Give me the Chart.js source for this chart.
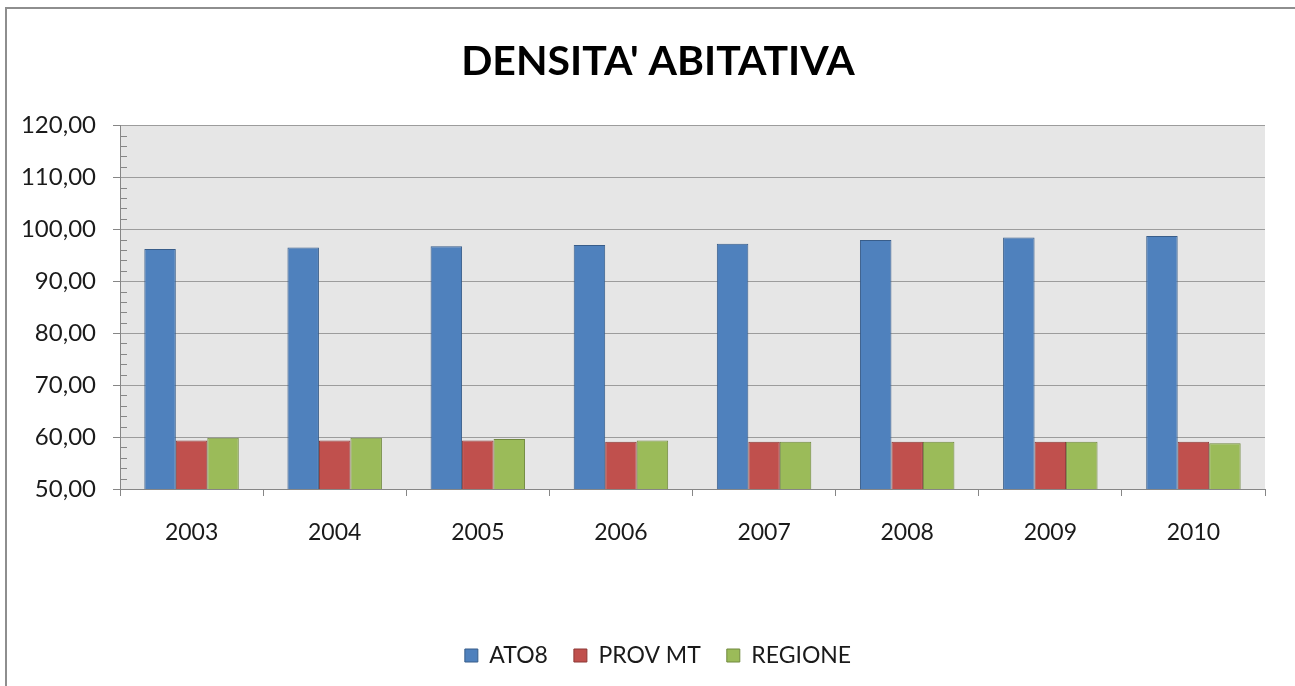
<!DOCTYPE html>
<html lang="it">
<head>
<meta charset="utf-8">
<title>Densita' abitativa</title>
<script src="https://cdn.jsdelivr.net/npm/chart.js@4/dist/chart.umd.min.js"></script>
<style>
  html, body { margin: 0; padding: 0; background: #fff; overflow: hidden; }
  #frame {
    position: absolute; left: 5px; top: 7px;
    width: 1400px; height: 800px;
    border: 2px solid #8e8e8e;
  }
  /* the original chart object is a bit wider than the visible crop */
  #wrap { position: absolute; left: 0; top: 0; width: 1308px; height: 686px; }
</style>
</head>
<body>
<div id="frame"></div>
<div id="wrap"><canvas id="densChart"></canvas></div>
<script>
// Values (abitanti per km²).
const YEARS = ['2003', '2004', '2005', '2006', '2007', '2008', '2009', '2010'];
const ATO8 = [96.2, 96.45, 96.7, 96.95, 97.2, 97.9, 98.4, 98.7];
const PROV_MT = [59.35, 59.35, 59.35, 59.1, 59.1, 59.1, 59.1, 59.1];
const REGIONE = [59.85, 59.85, 59.6, 59.35, 59.1, 59.1, 59.1, 58.8];

const Y_MIN = 50;
const Y_MAX = 120;
const Y_STEP = 10;
const Y_MINOR_STEP = 2;

const FONT = "Lato, 'Open Sans', sans-serif";
const GRID_COLOR = '#9c9c9c';
const AXIS_COLOR = '#868686';
const TEXT_COLOR = '#1a1a1a';

// Excel-style grey plot area behind the bars.
const plotBackground = {
  id: 'plotBackground',
  beforeDraw(chart) {
    const { ctx, chartArea: a } = chart;
    ctx.save();
    ctx.fillStyle = '#e6e6e6';
    ctx.fillRect(a.left, a.top, a.right - a.left, a.bottom - a.top);
    ctx.restore();
  },
};

// Small minor tick marks on the inside of the value axis.
const minorTicks = {
  id: 'minorTicks',
  afterDatasetsDraw(chart) {
    const { ctx, chartArea: a } = chart;
    const y = chart.scales.y;
    ctx.save();
    ctx.strokeStyle = AXIS_COLOR;
    ctx.lineWidth = 1;
    for (let v = Y_MIN + Y_MINOR_STEP; v < Y_MAX; v += Y_MINOR_STEP) {
      if (v % Y_STEP === 0) continue;
      const py = Math.round(y.getPixelForValue(v)) + 0.5;
      ctx.beginPath();
      ctx.moveTo(a.left, py);
      ctx.lineTo(a.left + 7, py);
      ctx.stroke();
    }
    ctx.restore();
  },
};

function series(label, data, fill, border) {
  return {
    label,
    data,
    backgroundColor: fill,
    borderColor: border,
    borderWidth: 1,
    categoryPercentage: 0.66,
    barPercentage: 1.0,
  };
}

new Chart(document.getElementById('densChart'), {
  type: 'bar',
  data: {
    labels: YEARS,
    datasets: [
      series('ATO8', ATO8, '#4f81bd', '#385d8a'),
      series('PROV MT', PROV_MT, '#c0504d', '#8c3836'),
      series('REGIONE', REGIONE, '#9bbb59', '#71893f'),
    ],
  },
  options: {
    responsive: true,
    maintainAspectRatio: false,
    animation: false,
    layout: { padding: { left: 8, right: 0, top: 0, bottom: 9 } },
    scales: {
      x: {
        grid: {
          offset: true,
          drawOnChartArea: false,
          drawTicks: true,
          tickLength: 7,
          color: AXIS_COLOR,
        },
        border: { color: AXIS_COLOR, width: 1 },
        ticks: { color: TEXT_COLOR, padding: 23, font: { family: FONT, size: 23 } },
        afterFit(scale) { scale.height = 129; },
      },
      y: {
        min: Y_MIN,
        max: Y_MAX,
        grid: { color: GRID_COLOR, tickLength: 7, tickColor: AXIS_COLOR },
        border: { color: AXIS_COLOR, width: 1 },
        ticks: {
          stepSize: Y_STEP,
          color: TEXT_COLOR,
          padding: 17,
          font: { family: FONT, size: 24 },
          callback: v => v.toFixed(2).replace('.', ','),
        },
        afterFit(scale) { scale.width = 112; },
      },
      // empty right-hand gutter, keeps the plot edge where Excel put it
      gutter: {
        type: 'linear',
        position: 'right',
        display: true,
        grid: { drawOnChartArea: false, drawTicks: false },
        border: { display: false },
        ticks: { display: false },
        afterFit(scale) { scale.width = 43; },
      },
    },
    plugins: {
      title: {
        display: true,
        text: "DENSITA' ABITATIVA",
        color: '#000',
        font: { family: FONT, size: 41, weight: 'bold', lineHeight: 1.2 },
        padding: { top: 37, bottom: 39 },
      },
      legend: {
        position: 'bottom',
        labels: {
          color: TEXT_COLOR,
          boxWidth: 13,
          boxHeight: 13,
          padding: 26,
          font: { family: FONT, size: 23 },
        },
      },
      tooltip: { enabled: false },
    },
  },
  plugins: [plotBackground, minorTicks],
});
</script>
</body>
</html>
